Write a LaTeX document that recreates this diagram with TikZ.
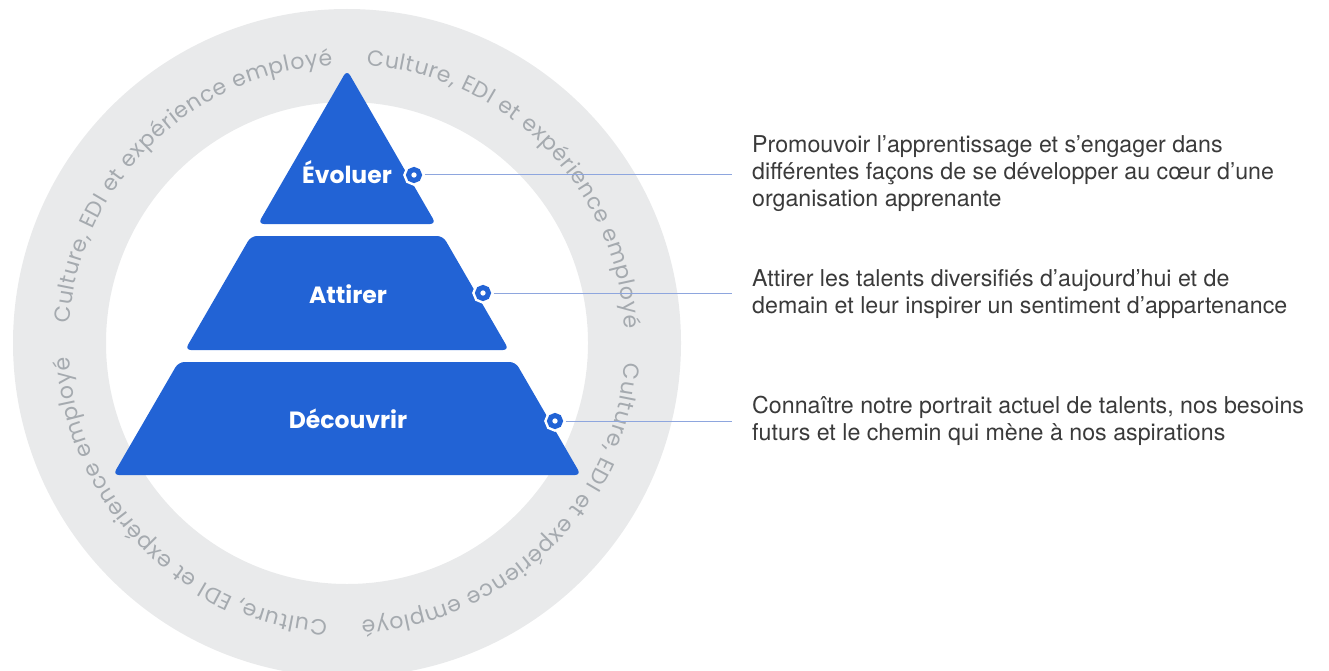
\documentclass[tikz,border=0pt]{standalone}
\usepackage{fontspec}
\setmainfont{TeX Gyre Heros}
\newfontfamily\popfont{Poppins}
\usetikzlibrary{decorations.text,calc}
\definecolor{pblue}{HTML}{2263D5}
\definecolor{ringbg}{HTML}{E9EAEB}
\definecolor{ringtxt}{HTML}{A5AAAF}
\definecolor{linkblue}{HTML}{8EA6DE}
\definecolor{bodytxt}{HTML}{3A3A3A}
\begin{document}
\begin{tikzpicture}[x=1pt,y=1pt,
  tier/.style={fill=pblue, rounded corners=6pt},
  tierlabel/.style={text=white, font=\popfont\bfseries\fontsize{23.5}{23.5}\selectfont, inner sep=0pt},
  marker/.style={circle, fill=white, draw=pblue, line width=5pt, minimum size=11pt, inner sep=0pt, preaction={draw=white, line width=10pt}},
  link/.style={draw=linkblue, line width=1pt, shorten <=2.5pt},
  desc/.style={anchor=west, align=left, text=bodytxt, font=\fontsize{23.2}{27}\selectfont, inner sep=0pt},
  ringtext/.style={decorate, decoration={text along path, text align=fit to path, text color=ringtxt, text={|\popfont\fontsize{22}{22}\selectfont|Culture, EDI et expérience employé}}}
]
\useasboundingbox (0,0) rectangle (1329,-671);
\coordinate (c) at (347,-343);
\fill[ringbg, even odd rule] (c) circle[radius=334pt] (c) circle[radius=241pt];
\foreach \s in {86,-4,-94,-184} {
  \pgfmathsetmacro\e{\s-83}
  \path[ringtext] ($(c)+(\s:278pt)$) arc[start angle=\s, end angle=\e, radius=278pt];
}
% pyramid tiers
\fill[tier] (347,-70) -- (436,-224) -- (258,-224) -- cycle;
\fill[tier] (251,-236) -- (443,-236) -- (509,-350) -- (185,-350) -- cycle;
\fill[tier] (178.5,-362) -- (515.5,-362) -- (581,-475) -- (113,-475) -- cycle;
\node[tierlabel] (l1) at (347,-172) {Évoluer};
\node[tierlabel] (l2) at (348,-294) {Attirer};
\node[tierlabel] (l3) at (348,-419) {Découvrir};
% markers
\node[marker] (m1) at (414,-175) {};
\node[marker] (m2) at (483,-293) {};
\node[marker] (m3) at (555,-421) {};
% descriptions
\node[desc] (t1) at (752,-174) {Promouvoir l’apprentissage et s’engager dans\\différentes façons de se développer au cœur d’une\\organisation apprenante};
\node[desc] (t2) at (752,-294) {Attirer les talents diversifiés d’aujourd’hui et de\\demain et leur inspirer un sentiment d’appartenance};
\node[desc] (t3) at (752,-421) {Connaître notre portrait actuel de talents, nos besoins\\futurs et le chemin qui mène à nos aspirations};
\coordinate (e1) at (732,-175);
\coordinate (e2) at (732,-293);
\coordinate (e3) at (732,-421);
\draw[link] (m1) -- (e1);
\draw[link] (m2) -- (e2);
\draw[link] (m3) -- (e3);
\end{tikzpicture}
\end{document}
